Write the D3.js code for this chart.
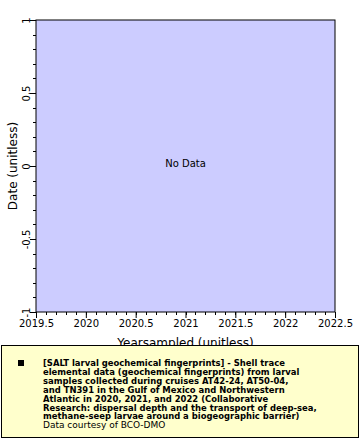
<!DOCTYPE html>
<html><head><meta charset="utf-8">
<script src="https://cdn.jsdelivr.net/npm/d3@7"></script>
<style>body{margin:0;background:#fff}svg{display:block}</style>
</head><body>
<script>
const xDomain = [2019.5, 2022.5];
const yDomain = [-1, 1];
const xTickLabels = ["2019.5","2020","2020.5","2021","2021.5","2022","2022.5"];
const yTickLabels = ["-1","-0.5","0","0.5","1"];
const xLabel = "Yearsampled (unitless)";
const yLabel = "Date (unitless)";
const noDataText = "No Data";
const legendLines = [
 "[SALT larval geochemical fingerprints] - Shell trace",
 "elemental data (geochemical fingerprints) from larval",
 "samples collected during cruises AT42-24, AT50-04,",
 "and TN391 in the Gulf of Mexico and Northwestern",
 "Atlantic in 2020, 2021, and 2022 (Collaborative",
 "Research: dispersal depth and the transport of deep-sea,",
 "methane-seep larvae around a biogeographic barrier)"
];
const legendCredit = "Data courtesy of BCO-DMO";

const W = 360, H = 440;
const m = {l:36, t:20, r:335, b:312};
const svg = d3.select("body").append("svg").attr("width",W).attr("height",H);
const x = d3.scaleLinear().domain(xDomain).range([m.l, m.r]);
const y = d3.scaleLinear().domain(yDomain).range([m.b, m.t]);
const font = "DejaVu Sans";

svg.append("rect").attr("x",m.l).attr("y",m.t).attr("width",m.r-m.l).attr("height",m.b-m.t)
  .attr("fill","#ccccff").attr("stroke","#000").attr("stroke-width",1);

// minor ticks
const xMinor = d3.range(0,31).map(i=>xDomain[0]+i*0.1);
const yMinor = d3.range(0,21).map(i=>yDomain[0]+i*0.1);
svg.append("g").selectAll("line").data(xMinor).join("line")
  .attr("x1",d=>Math.round(x(d))+0.5).attr("x2",d=>Math.round(x(d))+0.5)
  .attr("y1",m.b).attr("y2",m.b+3).attr("stroke","#000");
svg.append("g").selectAll("line").data(yMinor).join("line")
  .attr("y1",d=>Math.round(y(d))+0.5).attr("y2",d=>Math.round(y(d))+0.5)
  .attr("x1",m.l-3).attr("x2",m.l).attr("stroke","#000");

const xAxis = d3.axisBottom(x).tickValues(xTickLabels.map(Number)).tickFormat((d,i)=>xTickLabels[i]).tickSize(6).tickPadding(2);
const gx = svg.append("g").attr("transform",`translate(0,${m.b})`).call(xAxis);
gx.select(".domain").remove();
gx.selectAll("text").attr("font-family",font).attr("font-size",10).attr("fill","#000");

const yAxis = d3.axisLeft(y).tickValues(yTickLabels.map(Number)).tickFormat((d,i)=>yTickLabels[i]).tickSize(6).tickPadding(2);
const gy = svg.append("g").attr("transform",`translate(${m.l},0)`).call(yAxis);
gy.select(".domain").remove();
gy.selectAll("text").attr("font-family",font).attr("font-size",10).attr("fill","#000")
  .attr("text-anchor","middle").attr("dy",null).attr("x",0).attr("y",-6)
  .attr("transform","rotate(-90)");

svg.append("text").attr("x",(m.l+m.r)/2).attr("y",347).attr("text-anchor","middle")
  .attr("font-family",font).attr("font-size",12).text(xLabel);
svg.append("text").attr("transform",`translate(17,${(m.t+m.b)/2}) rotate(-90)`).attr("text-anchor","middle")
  .attr("font-family",font).attr("font-size",12).text(yLabel);

svg.append("text").attr("x",x(2021)).attr("y",y(0)+1).attr("text-anchor","middle")
  .attr("font-family",font).attr("font-size",10).text(noDataText);

// legend
svg.append("rect").attr("x",1.5).attr("y",345.5).attr("width",357).attr("height",92)
  .attr("fill","#ffffcc").attr("stroke","#000");
svg.append("rect").attr("x",18).attr("y",360).attr("width",6).attr("height",6).attr("fill","#000");
const lg = svg.append("g").attr("font-family","DejaVu Sans Condensed").attr("font-size",9.4).attr("font-weight","bold");
legendLines.forEach((t,i)=>lg.append("text").attr("x",43).attr("y",366+i*8.9).text(t));
svg.append("text").attr("x",43).attr("y",366+7*8.9).attr("font-family","DejaVu Sans").attr("font-size",9).text(legendCredit);
</script>
</body></html>
